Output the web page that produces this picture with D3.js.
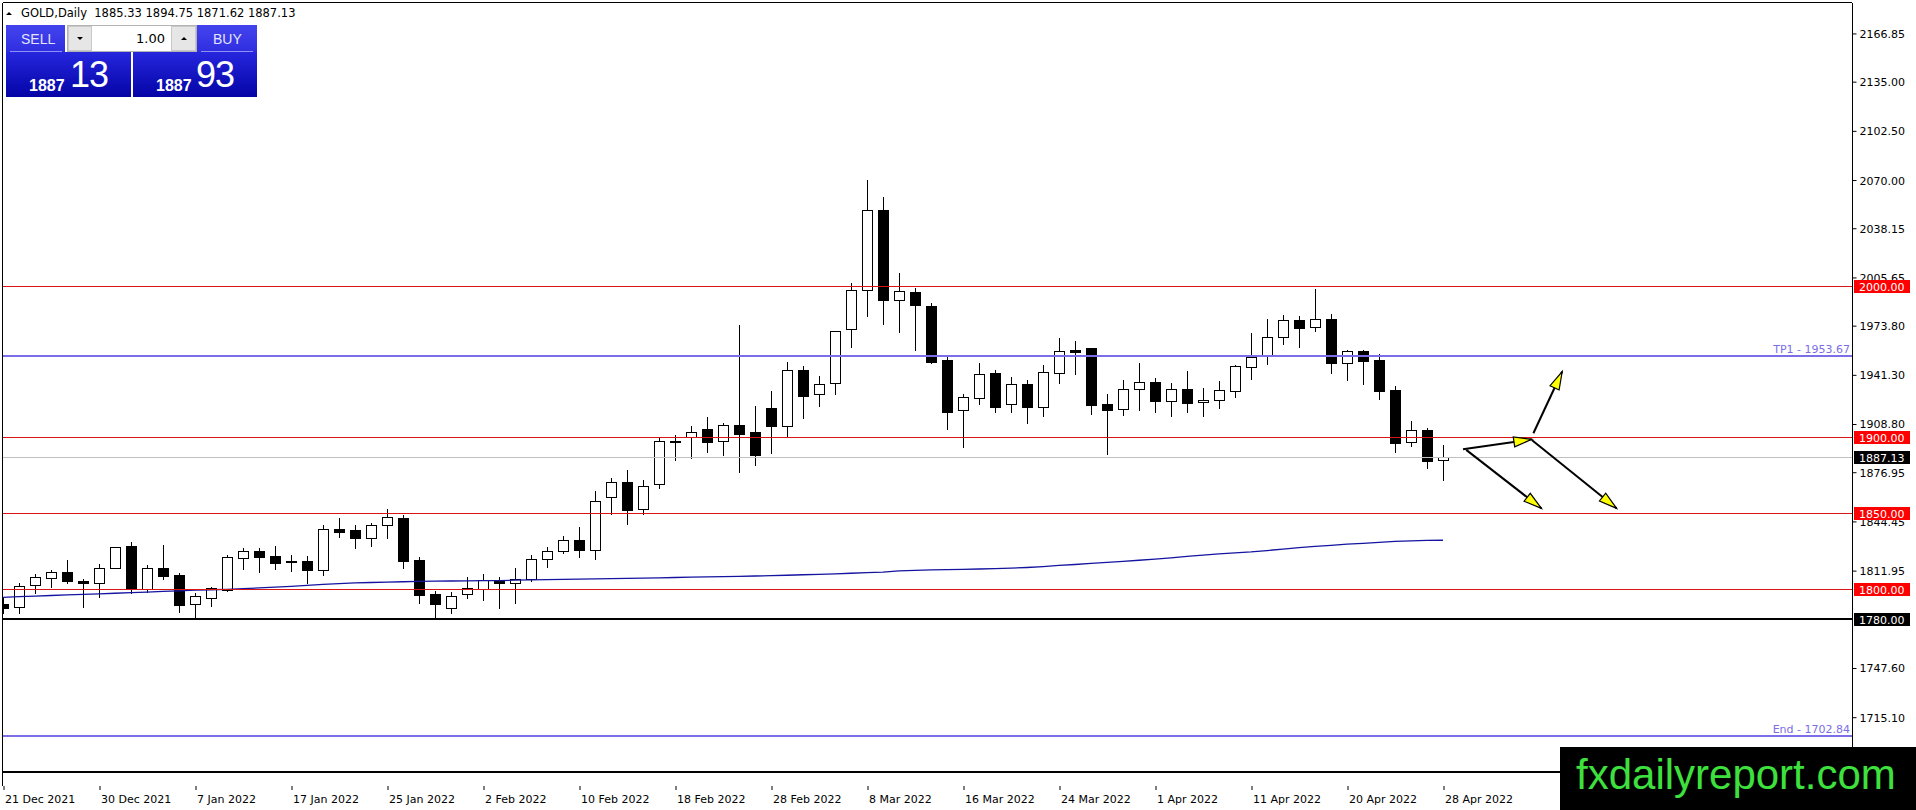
<!DOCTYPE html>
<html>
<head>
<meta charset="utf-8">
<title>GOLD,Daily</title>
<script src="https://cdn.jsdelivr.net/npm/d3@7"></script>
<style>
  html, body { margin: 0; padding: 0; background: #fff; overflow: hidden; }
  svg { display: block; font-family: 'DejaVu Sans', sans-serif; }
</style>
</head>
<body>
<div id="chart"></div>
<script>
// daily candles, bar 0 = 21 Dec 2021 ... bar 90 = 28 Apr 2022
const opens = [
  1789.7, 1787.7, 1802.2, 1806.8, 1811.0, 1805.1, 1803.5, 1813.9, 1828.2, 1800.0,
  1813.5, 1809.1, 1789.7, 1793.6, 1799.1, 1820.1, 1824.9, 1821.6, 1818.1, 1818.3,
  1812.6, 1839.2, 1838.8, 1833.3, 1841.9, 1846.5, 1819.0, 1796.3, 1787.0, 1796.3,
  1799.6, 1805.8, 1803.5, 1806.2, 1819.4, 1824.7, 1832.0, 1825.3, 1860.4, 1870.3,
  1852.4, 1868.9, 1897.4, 1900.0, 1905.5, 1897.4, 1908.0, 1903.3, 1919.3, 1907.7,
  1944.5, 1928.4, 1935.7, 1971.4, 1997.1, 2050.0, 1990.5, 1995.8, 1986.8, 1951.1,
  1917.9, 1926.2, 1942.3, 1921.8, 1935.3, 1920.3, 1942.7, 1957.5, 1959.0, 1922.0,
  1918.5, 1931.7, 1936.3, 1924.2, 1931.7, 1923.1, 1924.5, 1930.8, 1946.3, 1954.2,
  1966.1, 1977.3, 1973.1, 1978.2, 1949.3, 1957.0, 1951.1, 1931.3, 1897.2, 1904.9,
  1885.33
]
const highs = [
  1794.7, 1804.0, 1809.7, 1812.4, 1819.0, 1806.2, 1816.1, 1827.8, 1830.6, 1815.7,
  1828.9, 1810.2, 1797.4, 1800.9, 1822.3, 1827.1, 1826.7, 1828.2, 1822.3, 1821.6,
  1842.1, 1846.5, 1842.1, 1843.4, 1852.4, 1848.7, 1820.7, 1798.7, 1798.0, 1807.5,
  1809.7, 1807.5, 1813.5, 1822.3, 1827.3, 1834.8, 1841.0, 1864.5, 1872.9, 1878.4,
  1871.8, 1900.0, 1901.5, 1907.5, 1913.7, 1909.7, 1974.5, 1920.7, 1930.8, 1949.8,
  1947.1, 1940.5, 1970.0, 2001.8, 2070.0, 2058.6, 2008.4, 1998.7, 1989.0, 1953.3,
  1928.7, 1948.9, 1944.5, 1939.7, 1937.9, 1947.8, 1965.6, 1963.7, 1959.0, 1928.6,
  1937.9, 1949.1, 1939.0, 1936.1, 1943.8, 1932.4, 1937.2, 1948.0, 1968.7, 1978.4,
  1980.8, 1980.2, 1998.0, 1981.4, 1957.7, 1957.7, 1954.9, 1933.9, 1910.8, 1906.4,
  1894.75
]
const lows = [
  1783.7, 1784.2, 1797.4, 1801.3, 1803.5, 1788.1, 1794.7, 1813.5, 1797.0, 1797.8,
  1806.6, 1784.8, 1781.1, 1788.6, 1798.7, 1813.2, 1811.3, 1813.2, 1811.9, 1804.0,
  1808.8, 1834.4, 1827.1, 1828.4, 1833.7, 1813.9, 1790.3, 1780.0, 1784.2, 1793.6,
  1792.5, 1787.5, 1790.3, 1805.3, 1814.1, 1823.4, 1820.7, 1819.8, 1849.4, 1842.7,
  1849.4, 1866.8, 1885.0, 1886.6, 1890.5, 1888.3, 1877.3, 1881.7, 1889.9, 1900.5,
  1913.0, 1920.7, 1928.7, 1959.9, 1980.4, 1975.1, 1969.8, 1957.7, 1948.9, 1905.7,
  1893.9, 1922.1, 1917.0, 1917.0, 1909.7, 1914.1, 1936.1, 1942.1, 1915.4, 1889.0,
  1914.8, 1918.1, 1917.0, 1914.1, 1917.0, 1914.1, 1919.6, 1926.9, 1938.8, 1948.5,
  1961.7, 1959.9, 1970.3, 1942.7, 1937.9, 1935.3, 1925.3, 1890.5, 1894.5, 1880.0,
  1871.62
]
const closes = [
  1787.0, 1802.0, 1807.5, 1811.0, 1804.9, 1803.5, 1813.5, 1827.3, 1799.6, 1813.5,
  1808.4, 1789.5, 1795.0, 1800.2, 1820.7, 1824.9, 1821.2, 1816.8, 1817.4, 1812.6,
  1839.2, 1837.7, 1833.7, 1842.1, 1847.1, 1818.5, 1796.1, 1790.1, 1795.4, 1800.2,
  1805.8, 1803.5, 1806.4, 1819.4, 1824.7, 1832.0, 1825.3, 1857.7, 1870.3, 1852.2,
  1868.1, 1897.6, 1897.2, 1903.3, 1897.2, 1908.2, 1902.5, 1888.3, 1907.7, 1944.5,
  1927.5, 1935.0, 1970.0, 1997.1, 2050.0, 1991.0, 1996.5, 1987.7, 1950.0, 1917.0,
  1926.5, 1941.6, 1920.3, 1935.3, 1920.3, 1943.0, 1956.8, 1956.6, 1921.6, 1918.1,
  1931.7, 1936.3, 1924.2, 1931.7, 1922.9, 1924.5, 1931.1, 1947.1, 1953.1, 1966.3,
  1977.3, 1972.5, 1978.0, 1949.3, 1957.0, 1950.7, 1930.9, 1896.5, 1904.6, 1884.6,
  1887.13
]
// moving average (blue line)
const maValues = [
  1794.3, 1794.7, 1795.1, 1795.5, 1795.9, 1796.3, 1796.6, 1797.0, 1797.4, 1797.8,
  1798.2, 1798.6, 1799.0, 1799.3, 1799.6, 1800.0, 1800.5, 1801.0, 1801.6, 1802.2,
  1802.8, 1803.4, 1803.8, 1804.1, 1804.4, 1804.6, 1804.8, 1805.0, 1805.1, 1805.2,
  1805.3, 1805.4, 1805.6, 1805.8, 1806.0, 1806.2, 1806.3, 1806.5, 1806.6, 1806.8,
  1807.0, 1807.2, 1807.4, 1807.6, 1807.8, 1808.0, 1808.2, 1808.4, 1808.6, 1808.9,
  1809.2, 1809.5, 1809.8, 1810.2, 1810.6, 1811.0, 1811.8, 1812.1, 1812.4, 1812.6,
  1812.8, 1813.0, 1813.3, 1813.6, 1814.0, 1814.6, 1815.4, 1816.0, 1816.7, 1817.4,
  1818.1, 1818.8, 1819.5, 1820.3, 1821.3, 1822.2, 1823.0, 1823.7, 1824.3, 1825.2,
  1826.2, 1827.1, 1827.9, 1828.6, 1829.4, 1830.0, 1830.6, 1831.2, 1831.6, 1831.9,
  1832.0
]
const dateLabels = [
  '21 Dec 2021', '30 Dec 2021', '7 Jan 2022', '17 Jan 2022', '25 Jan 2022', '2 Feb 2022',
  '10 Feb 2022', '18 Feb 2022', '28 Feb 2022', '8 Mar 2022', '16 Mar 2022', '24 Mar 2022',
  '1 Apr 2022', '11 Apr 2022', '20 Apr 2022', '28 Apr 2022'
]
const barsPerLabel = 6
const priceTicks = [2166.85, 2135.00, 2102.50, 2070.00, 2038.15, 2005.65, 1973.80, 1941.30,
  1908.80, 1876.95, 1844.45, 1811.95, 1747.60, 1715.10]
const redLevels = [2000, 1900, 1850, 1800]
const blackLevels = [1780]
const plainLevels = [1679]
const blueLevels = [{ name: 'TP1', price: 1953.67 }, { name: 'End', price: 1702.84 }]
const lastPrice = 1887.13
const quote = { symbol: 'GOLD,Daily', o: 1885.33, h: 1894.75, l: 1871.62, c: 1887.13 }
const lotSize = '1.00'
const bid = { big: '1887', small: '13' }
const ask = { big: '1887', small: '93' }
// drawn arrows, [bar, price] -> [bar, price]
const arrows = [
  { from: [91.25, 1892.1], to: [95.55, 1898.7] },
  { from: [95.65, 1902.7], to: [97.45, 1943.5] },
  { from: [91.45, 1891.7], to: [96.15, 1853.1] },
  { from: [95.55, 1898.2], to: [100.85, 1853.1] }
]

const W = 1916, H = 810
const plot = { left: 3, right: 1852, top: 3, bottom: 786 }
const fmt = d3.format('.2f')
const crisp = v => Math.round(v) + 0.5

const x = d3.scaleLinear().domain([0, 115.5]).range([3, 1851])
const y = d3.scaleLinear().domain([1715.10, 2166.85]).range([717.2, 33.45])

const svg = d3.select('#chart').append('svg')
  .attr('width', W).attr('height', H)

const defs = svg.append('defs')
defs.append('clipPath').attr('id', 'clip')
  .append('rect')
  .attr('x', plot.left).attr('y', plot.top)
  .attr('width', plot.right - plot.left).attr('height', plot.bottom - plot.top)

function grad(id, c1, c2) {
  const g = defs.append('linearGradient').attr('id', id)
    .attr('x1', 0).attr('y1', 0).attr('x2', 0).attr('y2', 1)
  g.append('stop').attr('offset', '0%').attr('stop-color', c1)
  g.append('stop').attr('offset', '100%').attr('stop-color', c2)
}
grad('btnGrad', '#4444ee', '#2e2ee0')
grad('priceGrad', '#2626de', '#0404a6')

svg.append('rect').attr('width', W).attr('height', H).attr('fill', '#fff')

const chart = svg.append('g').attr('clip-path', 'url(#clip)')

// candles
const bars = d3.range(opens.length).map(i => ({ i, o: opens[i], h: highs[i], l: lows[i], c: closes[i] }))

chart.append('g').selectAll('line').data(bars).join('line')
  .attr('x1', d => crisp(x(d.i))).attr('x2', d => crisp(x(d.i)))
  .attr('y1', d => Math.round(y(d.h))).attr('y2', d => Math.round(y(d.l)) + 1)
  .attr('stroke', '#000').attr('stroke-width', 1)

chart.append('g').selectAll('rect').data(bars).join('rect')
  .attr('x', d => Math.round(x(d.i)) - 4.5)
  .attr('width', 10)
  .attr('y', d => crisp(y(Math.max(d.o, d.c))))
  .attr('height', d => Math.max(1, Math.round(y(Math.min(d.o, d.c))) - Math.round(y(Math.max(d.o, d.c)))))
  .attr('fill', d => d.c >= d.o ? '#fff' : '#000')
  .attr('stroke', '#000').attr('stroke-width', 1)

// moving average
chart.append('path')
  .datum(maValues)
  .attr('fill', 'none')
  .attr('stroke', '#1414a0')
  .attr('stroke-width', 1.3)
  .attr('d', d3.line().x((d, i) => x(i)).y(d => y(d)))

// horizontal levels
function hline(price, color, width) {
  const yy = width % 2 === 1 ? crisp(y(price)) : Math.round(y(price))
  chart.append('line')
    .attr('x1', plot.left).attr('x2', plot.right)
    .attr('y1', yy).attr('y2', yy)
    .attr('stroke', color).attr('stroke-width', width)
}
hline(lastPrice, '#c0c0c0', 1)
redLevels.forEach(p => hline(p, '#d81414', 1))
blackLevels.forEach(p => hline(p, '#000', 2))
plainLevels.forEach(p => hline(p, '#000', 2))
blueLevels.forEach(p => {
  hline(p.price, '#7b6ee6', 2)
  chart.append('text')
    .attr('x', plot.right - 2).attr('y', Math.round(y(p.price)) - 3)
    .attr('text-anchor', 'end')
    .attr('font-size', 11)
    .attr('fill', '#7b6ee6')
    .text(p.name + ' - ' + fmt(p.price))
})

// arrows
const arrowG = chart.append('g')
arrows.forEach(a => {
  const x0 = x(a.from[0]), y0 = y(a.from[1])
  const x1 = x(a.to[0]), y1 = y(a.to[1])
  arrowG.append('line')
    .attr('x1', x0).attr('y1', y0).attr('x2', x1).attr('y2', y1)
    .attr('stroke', '#000').attr('stroke-width', 2)
  const ang = Math.atan2(y1 - y0, x1 - x0)
  const len = 18, half = 5
  const bx = x1 - len * Math.cos(ang), by = y1 - len * Math.sin(ang)
  const px = -Math.sin(ang) * half, py = Math.cos(ang) * half
  arrowG.append('path')
    .attr('d', `M${x1},${y1}L${bx + px},${by + py}L${bx - px},${by - py}Z`)
    .attr('fill', '#ffff00').attr('stroke', '#000').attr('stroke-width', 1.2)
    .attr('stroke-linejoin', 'miter')
})

// frame
svg.append('line')
  .attr('x1', 2.5).attr('x2', 2.5).attr('y1', plot.top).attr('y2', plot.bottom)
  .attr('stroke', '#000')
svg.append('line')
  .attr('x1', plot.left).attr('x2', plot.right).attr('y1', 2.5).attr('y2', 2.5)
  .attr('stroke', '#000')
svg.append('line')
  .attr('x1', plot.right + 0.5).attr('x2', plot.right + 0.5).attr('y1', plot.top).attr('y2', plot.bottom)
  .attr('stroke', '#000')

// price axis
const yAxis = svg.append('g')
  .attr('transform', `translate(${plot.right + 0.5},0)`)
  .call(d3.axisRight(y).tickValues(priceTicks).tickFormat(fmt).tickSize(4).tickPadding(3))
yAxis.select('.domain').remove()
yAxis.selectAll('text')
  .attr('font-family', "'DejaVu Sans', sans-serif")
  .attr('font-size', 11)
  .attr('fill', '#000')
  .attr('dy', '0.36em')

// time axis
const xAxis = svg.append('g')
  .attr('transform', `translate(0.5,${plot.bottom})`)
  .call(d3.axisBottom(x)
    .tickValues(dateLabels.map((d, i) => i * barsPerLabel))
    .tickFormat((d, i) => dateLabels[i])
    .tickSize(4).tickPadding(4))
xAxis.select('.domain').remove()
xAxis.selectAll('text')
  .attr('font-family', "'DejaVu Sans', sans-serif")
  .attr('font-size', 11)
  .attr('fill', '#000')
  .attr('text-anchor', 'start')
  .attr('dx', 1)
  .attr('y', 9)

// price labels on axis
function priceTag(price, bg) {
  const yy = Math.round(y(price))
  svg.append('rect')
    .attr('x', plot.right + 2).attr('y', yy - 6)
    .attr('width', 56).attr('height', 13)
    .attr('fill', bg)
  svg.append('text')
    .attr('x', plot.right + 7).attr('y', yy + 4.5)
    .attr('font-size', 11).attr('fill', '#fff')
    .text(fmt(price))
}
redLevels.forEach(p => priceTag(p, '#ff0000'))
blackLevels.forEach(p => priceTag(p, '#000'))
priceTag(lastPrice, '#000')

// title
svg.append('path').attr('d', 'M6,15L12,15L9,12Z').attr('fill', '#000')
svg.append('text')
  .attr('x', 21).attr('y', 17)
  .attr('font-size', 11.5)
  .style('white-space', 'pre')
  .text(quote.symbol + '  ' + [quote.o, quote.h, quote.l, quote.c].map(fmt).join(' '))

// one-click trading panel
const panel = svg.append('g')
panel.append('rect').attr('x', 6).attr('y', 25).attr('width', 59).attr('height', 27).attr('fill', 'url(#btnGrad)')
panel.append('rect').attr('x', 197).attr('y', 25).attr('width', 60).attr('height', 27).attr('fill', 'url(#btnGrad)')
panel.append('rect').attr('x', 6).attr('y', 52).attr('width', 125).attr('height', 45).attr('fill', 'url(#priceGrad)')
panel.append('rect').attr('x', 133).attr('y', 52).attr('width', 124).attr('height', 45).attr('fill', 'url(#priceGrad)')
panel.append('line').attr('x1', 10).attr('x2', 62).attr('y1', 51.5).attr('y2', 51.5).attr('stroke', '#8f8ff5')
panel.append('line').attr('x1', 201).attr('x2', 253).attr('y1', 51.5).attr('y2', 51.5).attr('stroke', '#8f8ff5')

panel.append('rect').attr('x', 67.5).attr('y', 25.5).attr('width', 129).attr('height', 26)
  .attr('fill', '#fff').attr('stroke', '#b4b4b4')
panel.append('rect').attr('x', 68.5).attr('y', 26.5).attr('width', 23).attr('height', 24)
  .attr('fill', '#e6e6e6').attr('stroke', '#c8c8c8')
panel.append('rect').attr('x', 171.5).attr('y', 26.5).attr('width', 24).attr('height', 24)
  .attr('fill', '#e6e6e6').attr('stroke', '#c8c8c8')
panel.append('path').attr('d', 'M77,37L83,37L80,40Z').attr('fill', '#000')
panel.append('path').attr('d', 'M181,40L187,40L184,37Z').attr('fill', '#000')
panel.append('text').attr('x', 165).attr('y', 43).attr('text-anchor', 'end')
  .attr('font-size', 13).attr('fill', '#000').text(lotSize)

panel.append('text').attr('x', 21).attr('y', 44).attr('font-family', "'Liberation Sans', sans-serif")
  .attr('font-size', 14).attr('fill', '#e4e4ff').text('SELL')
panel.append('text').attr('x', 213).attr('y', 44).attr('font-family', "'Liberation Sans', sans-serif")
  .attr('font-size', 14).attr('fill', '#e4e4ff').text('BUY')

function quoteText(x0, xs, q) {
  panel.append('text').attr('x', x0).attr('y', 91)
    .attr('font-family', "'Liberation Sans', sans-serif").attr('font-weight', 'bold')
    .attr('font-size', 16).attr('fill', '#fff').text(q.big)
  panel.append('text').attr('x', xs).attr('y', 87)
    .attr('font-family', "'Liberation Sans', sans-serif")
    .attr('font-size', 36).attr('letter-spacing', -1).attr('fill', '#fff').text(q.small)
}
quoteText(29, 70, bid)
quoteText(156, 196, ask)

// watermark
svg.append('rect').attr('x', 1560).attr('y', 747).attr('width', 356).attr('height', 63).attr('fill', '#000')
svg.append('text').attr('x', 1576).attr('y', 789)
  .attr('font-family', "'Liberation Sans', Arial, sans-serif")
  .attr('font-size', 42).attr('fill', '#3ee03e')
  .text('fxdailyreport.com')
</script>
</body>
</html>
